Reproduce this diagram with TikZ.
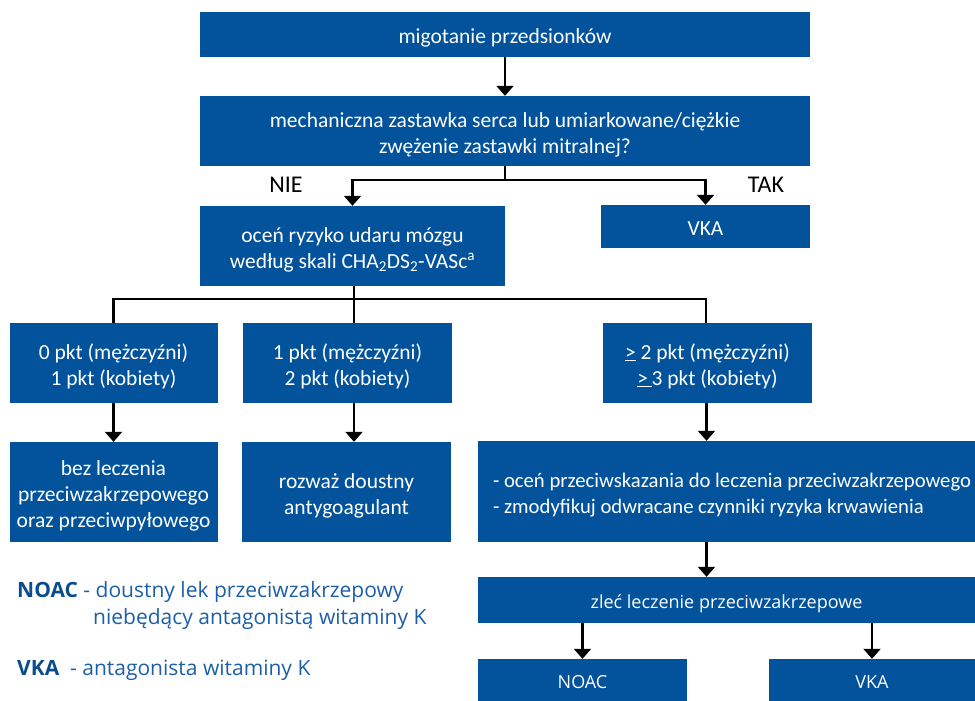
\documentclass[tikz,border=0pt]{standalone}
\usepackage{fontspec}
\setmainfont{Carlito}
\newfontfamily\osans{Open Sans}
\usetikzlibrary{arrows.meta}
\definecolor{boxblue}{HTML}{02529C}
\definecolor{legblue}{HTML}{1C5FA8}
\definecolor{legdark}{HTML}{0B4C8C}
\newcommand\bx[1]{\raisebox{-4pt}[\height][\depth]{\begin{tabular}{@{}c@{}}#1\end{tabular}}}
\newcommand\bxl[1]{\raisebox{-4pt}[\height][\depth]{\begin{tabular}{@{}l@{}}#1\end{tabular}}}
\begin{document}
\begin{tikzpicture}[x=1pt,y=-1pt,
  box/.style={fill=boxblue, text=white, inner sep=0pt,
    font=\fontsize{21.5}{26}\selectfont},
  obox/.style={box, font=\osans\fontsize{18}{22}\selectfont},
  lbl/.style={inner sep=0pt, font=\fontsize{24}{28}\selectfont},
  leg/.style={inner sep=0pt, anchor=base west, text=legblue, font=\osans\fontsize{21}{24}\selectfont},
  ln/.style={line width=2.2pt},
  arr/.style={line width=2.2pt, -{Triangle[width=17pt,length=10pt]}}]
\useasboundingbox (0,0) rectangle (975,701);

\node[box, minimum width=610pt, minimum height=45pt] (b1) at (505,34.5) {\bx{migotanie przedsionków}};
\node[box, minimum width=610pt, minimum height=70pt] (b2) at (505,131) {\bx{mechaniczna zastawka serca lub umiarkowane/ciężkie\\zwężenie zastawki mitralnej?}};
\node[box, minimum width=305pt, minimum height=80pt] (b3) at (352.5,246) {\bx{oceń ryzyko udaru mózgu\\według skali CHA\textsubscript{2}DS\textsubscript{2}-VASc\textsuperscript{a}}};
\node[box, minimum width=209pt, minimum height=43pt] (vka1) at (705.5,226.5) {\bx{VKA}};

\node[box, minimum width=208pt, minimum height=80pt] (p0) at (113.5,363) {\bx{0 pkt (mężczyźni)\\1 pkt (kobiety)}};
\node[box, minimum width=209pt, minimum height=80pt] (p1) at (347.5,363) {\bx{1 pkt (mężczyźni)\\2 pkt (kobiety)}};
\node[box, minimum width=209pt, minimum height=80pt] (p2) at (707.5,363) {\bx{\underline{>} 2 pkt (mężczyźni)\\\underline{>\,}3 pkt (kobiety)}};

\node[box, minimum width=208pt, minimum height=100pt] (bez) at (113.5,492) {\bx{bez leczenia\\przeciwzakrzepowego\\oraz przeciwpyłowego}};
\node[box, minimum width=209pt, minimum height=100pt] (roz) at (346.5,492) {\bx{rozważ doustny\\antygoagulant}};
\node[box, minimum height=101pt, minimum width=497pt, font=\fontsize{20.7}{26}\selectfont] (oc) at (726.5,491.5)
  {\makebox[467pt][l]{\bxl{- oceń przeciwskazania do leczenia przeciwzakrzepowego\\- zmodyfikuj odwracane czynniki ryzyka krwawienia}}};

\node[obox, minimum width=497pt, minimum height=46pt] (zl) at (726.5,600) {\bx{zleć leczenie przeciwzakrzepowe}};
\node[obox, minimum width=209pt, minimum height=42pt] (noac) at (582.5,680) {\bx{NOAC}};
\node[obox, minimum width=206pt, minimum height=42pt] (vka2) at (872,680) {\bx{VKA}};

\node[lbl] (nie) at (286,185) {NIE};
\node[lbl] (tak) at (766,185) {TAK};

\node[leg] (l1) at (17,597) {\textcolor{legdark}{\bfseries NOAC} - doustny lek przeciwzakrzepowy};
\node[leg] (l2) at (93,624) {niebędący antagonistą witaminy K};
\node[leg] (l3) at (17,675) {\textcolor{legdark}{\bfseries VKA}\ \ - antagonista witaminy K};

% connectors
\draw[arr] (b1) -- (b2);
\draw[arr] (b2.south) -- ++(0,14) -| (b3.north);
\draw[arr] (b2.south) -- ++(0,14) -| (vka1.north);
\coordinate (t3) at ([xshift=1.5pt]b3.south);
\coordinate (h) at (t3 |- 0,299);
\draw[ln] (t3) -- (t3 |- p1.north);
\draw[ln] (p0.north) |- (h) -| ([xshift=-1.5pt]p2.north);
\draw[arr] (p0) -- (bez);
\draw[arr] (p1.south -| t3) -- (roz.north -| t3);
\draw[arr] ([xshift=-1pt]p2.south) -- ([xshift=-1pt]p2.south |- oc.north);
\draw[arr] ([xshift=-1pt]p2.south |- oc.south) -- ([xshift=-1pt]p2.south |- zl.north);
\draw[arr] (noac.north |- zl.south) -- (noac.north);
\draw[arr] (vka2.north |- zl.south) -- (vka2.north);
\end{tikzpicture}
\end{document}
